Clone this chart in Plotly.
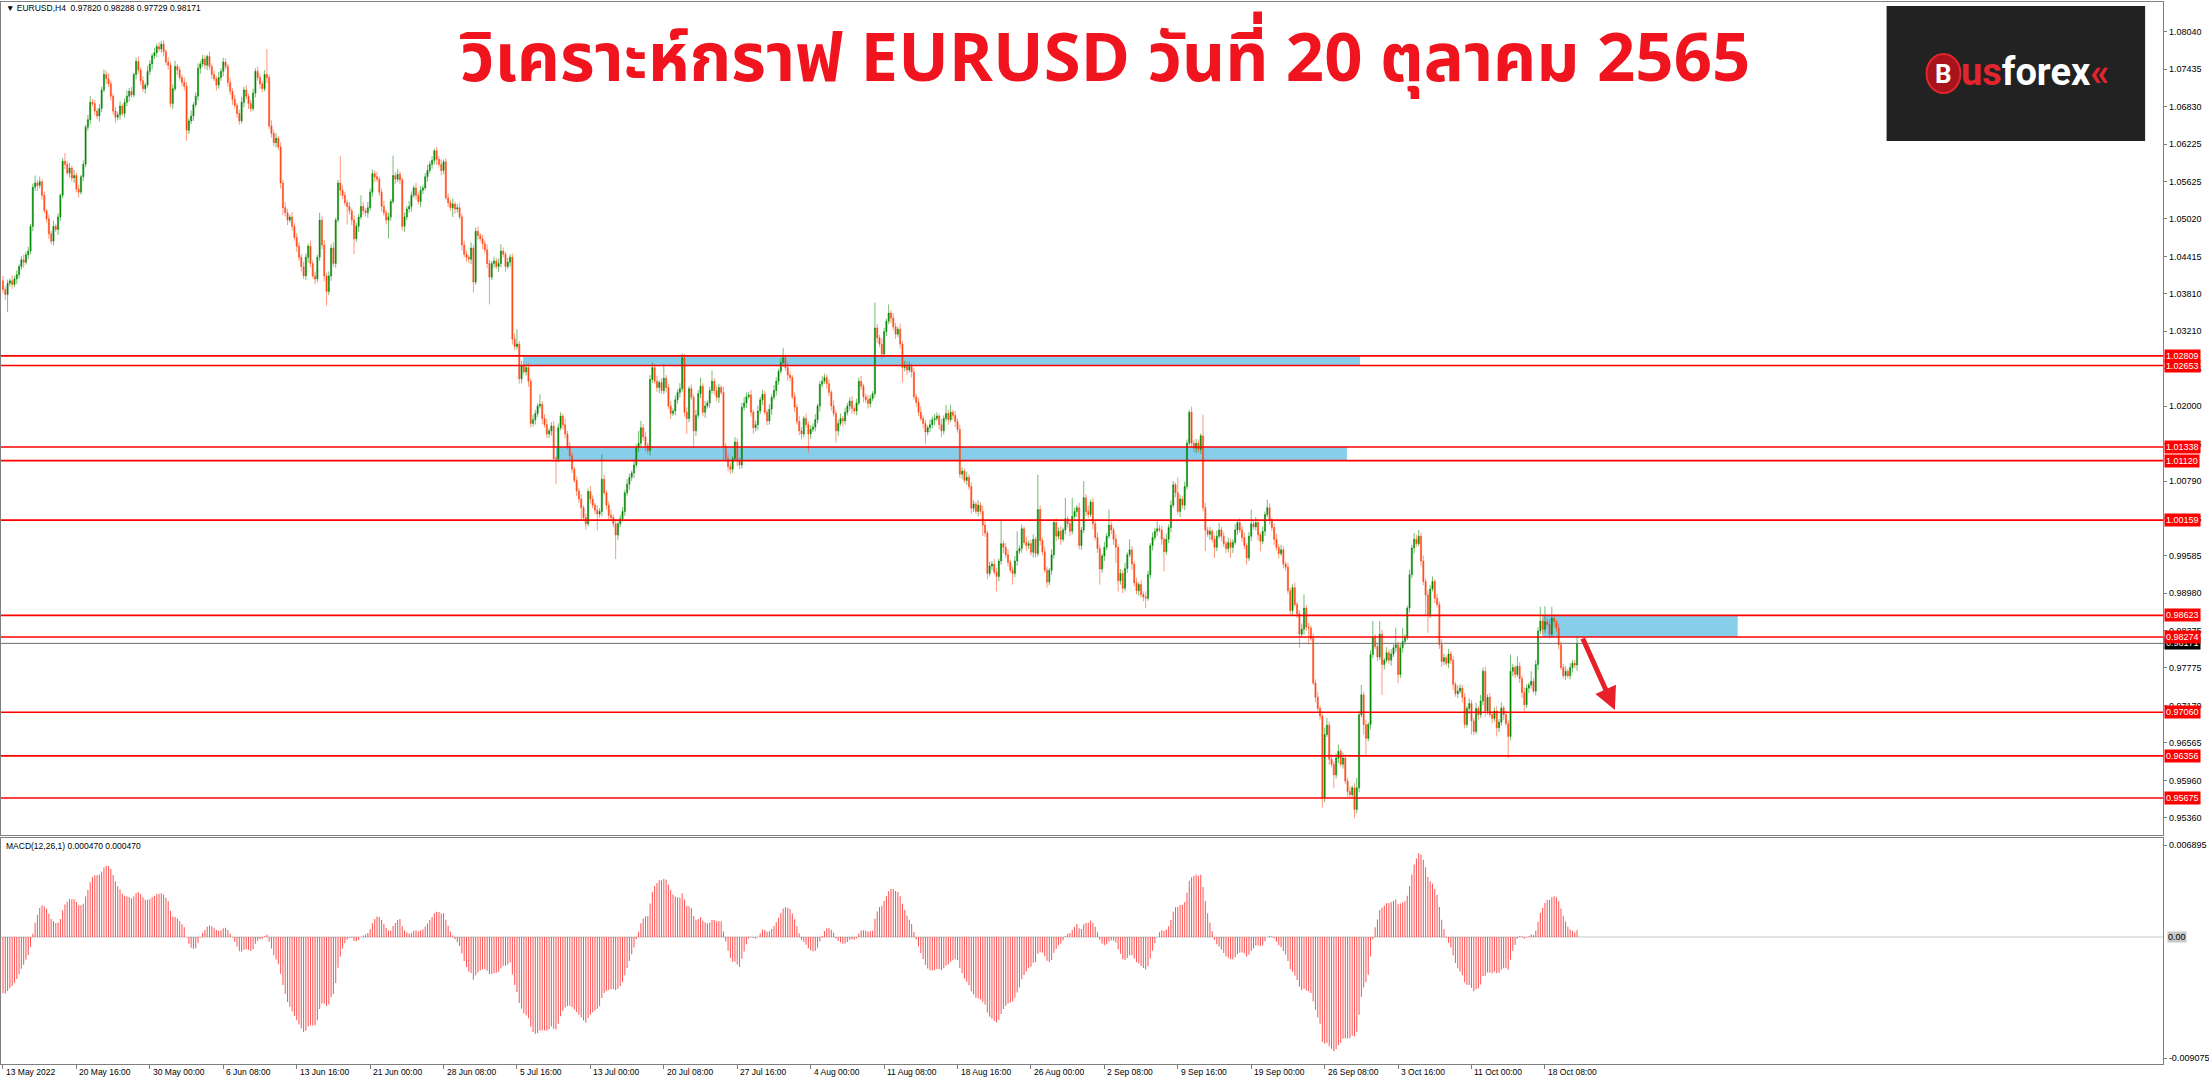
import plotly.graph_objects as go

# ---------------- chart data (prices in pips, 1 pip = 0.0001) ----------------
HEADER = "▼ EURUSD,H4  0.97820 0.98288 0.97729 0.98171"
TITLE = "วิเคราะห์กราฟ EURUSD วันที่ 20 ตุลาคม 2565"
MACD_HEADER = "MACD(12,26,1) 0.000470 0.000470"

OPEN_FIRST = 10402
CLOSE = [
    10388, 10380, 10398, 10402, 10396, 10405, 10412, 10425, 10436, 10432,
    10444, 10450, 10490, 10553, 10560, 10556, 10562, 10540, 10515, 10502,
    10478, 10466, 10490, 10485, 10505, 10540, 10595, 10590, 10576, 10584,
    10568, 10572, 10550, 10545, 10570, 10590, 10650, 10662, 10690, 10688,
    10676, 10668, 10680, 10710, 10735, 10728, 10720, 10700, 10676, 10666,
    10670, 10684, 10672, 10690, 10700, 10708, 10702, 10735, 10756, 10742,
    10725, 10712, 10718, 10740, 10752, 10765, 10770, 10780, 10776, 10784,
    10772, 10755, 10750, 10688, 10712, 10748, 10742, 10730, 10722, 10716,
    10645, 10660, 10668, 10686, 10700, 10745, 10752, 10760, 10750, 10764,
    10748, 10735, 10728, 10718, 10730, 10740, 10755, 10748, 10722, 10708,
    10695, 10685, 10672, 10660, 10690, 10710, 10700, 10688, 10680, 10705,
    10740, 10730, 10720, 10712, 10735, 10730, 10652, 10640, 10625, 10632,
    10618, 10560, 10520, 10512, 10500, 10505, 10490, 10472, 10458, 10440,
    10425, 10410, 10440, 10458, 10430, 10410, 10405, 10440, 10500, 10460,
    10410, 10385, 10410, 10455, 10430, 10500, 10560, 10548, 10540, 10528,
    10522, 10515, 10500, 10470, 10490, 10505, 10522, 10515, 10512, 10520,
    10545, 10575, 10570, 10566, 10545, 10522, 10512, 10500, 10505, 10530,
    10572, 10566, 10574, 10565, 10490, 10505, 10518, 10522, 10540, 10552,
    10540, 10530, 10548, 10552, 10570, 10580, 10590, 10596, 10612, 10598,
    10590, 10580, 10594, 10536, 10528, 10520, 10526, 10518, 10520, 10505,
    10460, 10445, 10440, 10437, 10455, 10400, 10482, 10475, 10470, 10462,
    10452, 10430, 10408, 10430, 10434, 10425, 10430, 10450, 10445, 10425,
    10432, 10440, 10308, 10296, 10300, 10244, 10265, 10255, 10262, 10240,
    10172, 10178, 10188, 10200, 10203, 10180, 10170, 10155, 10160, 10168,
    10115, 10115, 10165, 10184, 10170, 10155, 10135, 10120, 10098, 10080,
    10063, 10050, 10036, 10020, 10010, 10062, 10050, 10040, 10032, 10026,
    10030, 10082, 10060, 10040, 10024, 10020, 10010, 9992, 10010, 10018,
    10030, 10060, 10074, 10085, 10092, 10105, 10133, 10140, 10165, 10150,
    10136, 10128, 10243, 10262, 10240, 10230, 10238, 10225, 10245, 10230,
    10200, 10188, 10192, 10210, 10222, 10228, 10278, 10190, 10180, 10228,
    10214, 10160, 10185, 10220, 10232, 10190, 10200, 10205, 10225, 10240,
    10225, 10214, 10230, 10222, 10135, 10115, 10102, 10098, 10115, 10142,
    10112, 10105, 10198, 10205, 10215, 10218, 10190, 10165, 10170, 10192,
    10210, 10219, 10190, 10176, 10195, 10214, 10225, 10240, 10256, 10270,
    10278, 10262, 10250, 10246, 10215, 10198, 10175, 10160, 10155, 10180,
    10170, 10155, 10162, 10166, 10178, 10200, 10235, 10240, 10246, 10236,
    10222, 10200, 10188, 10160, 10172, 10180, 10176, 10190, 10200, 10208,
    10196, 10192, 10205, 10240, 10232, 10215, 10210, 10204, 10212, 10220,
    10326, 10310, 10300, 10284, 10320, 10337, 10350, 10342, 10328, 10316,
    10324, 10300, 10262, 10266, 10258, 10264, 10255, 10215, 10206, 10190,
    10180, 10172, 10158, 10165, 10170, 10178, 10180, 10184, 10170, 10160,
    10180, 10188, 10178, 10190, 10185, 10175, 10162, 10090, 10095, 10080,
    10085, 10070, 10035, 10042, 10030, 10040, 10030, 10008, 9995, 9930,
    9942, 9945, 9932, 9925, 9950, 9978, 9972, 9960, 9948, 9935,
    9930, 9950, 9966, 9970, 10002, 9980, 9975, 9978, 9964, 9985,
    9962, 10033, 9983, 9965, 9935, 9916, 9935, 9960, 10012, 9990,
    9998, 9985, 10000, 10018, 10010, 9998, 10022, 10030, 10036, 9975,
    10000, 10052, 10030, 10025, 10045, 10010, 9988, 9970, 9937, 9958,
    9972, 9990, 10008, 10000, 9985, 9972, 9918, 9930, 9906, 9938,
    9960, 9968, 9945, 9915, 9902, 9912, 9896, 9892, 9890, 9928,
    9975, 9988, 9998, 10002, 10000, 9985, 9965, 9985, 10004, 10040,
    10073, 10060, 10030, 10050, 10040, 10070, 10140, 10190, 10140, 10132,
    10140, 10130, 10152, 10036, 10000, 9993, 9998, 9985, 9972, 9990,
    10000, 9990, 9978, 9970, 9980, 9972, 9980, 10000, 10012, 10000,
    9988, 9975, 9955, 9990, 10010, 10005, 10012, 9992, 9982, 9998,
    10025, 10036, 10016, 10004, 9985, 9972, 9962, 9968, 9945, 9940,
    9902, 9870, 9907, 9880, 9865, 9832, 9840, 9874, 9843, 9842,
    9825, 9753, 9730, 9712, 9700, 9568, 9670, 9685, 9630, 9622,
    9605, 9632, 9643, 9622, 9632, 9595, 9578, 9573, 9584, 9549,
    9584, 9702, 9734, 9686, 9664, 9686, 9799, 9826, 9812, 9795,
    9832, 9783, 9790, 9802, 9790, 9800, 9810, 9815, 9767, 9810,
    9820, 9826, 9874, 9928, 9971, 9985, 9978, 9990, 9950, 9917,
    9895, 9864, 9905, 9917, 9890, 9880, 9815, 9788, 9794, 9785,
    9800, 9790, 9751, 9736, 9740, 9745, 9730, 9686, 9712, 9720,
    9692, 9675, 9712, 9702, 9724, 9772, 9708, 9730, 9702, 9696,
    9708, 9681, 9690, 9713, 9702, 9688, 9667, 9772, 9778, 9767,
    9780, 9760, 9738, 9718, 9745, 9750, 9756, 9740, 9783, 9837,
    9853, 9840, 9852, 9848, 9832, 9858, 9852, 9842, 9815, 9778,
    9765, 9772, 9765, 9778, 9785, 9782, 9817,
]
UPPER_WICK = [
    8, 5, 6, 4, 9, 5, 7, 4, 6, 8,
    5, 7, 4, 6, 12, 5, 8, 4, 6, 3,
    7, 5, 9, 4, 6, 3, 5, 13, 6, 8,
    4, 9, 5, 7, 3, 6, 4, 8, 10, 5,
    6, 4, 7, 5, 8, 6, 9, 5, 4, 7,
    5, 8, 4, 6, 9, 5, 7, 3, 6, 8,
    5, 7, 4, 9, 6, 4, 8, 5, 7, 5,
    6, 4, 8, 5, 7, 9, 4, 6, 5, 8,
    7, 5, 9, 4, 6, 8, 5, 7, 6, 3,
    8, 5, 6, 4, 9, 5, 7, 6, 4, 8,
    5, 7, 4, 6, 9, 5, 8, 4, 6, 7,
    5, 8, 6, 4, 7, 41, 5, 9, 6, 8,
    4, 7, 5, 9, 6, 4, 8, 5, 7, 6,
    5, 8, 6, 4, 9, 5, 7, 4, 12, 6,
    8, 5, 7, 6, 9, 4, 5, 43, 8, 6,
    5, 7, 4, 8, 6, 5, 18, 7, 4, 9,
    6, 7, 5, 8, 4, 6, 9, 5, 7, 4,
    32, 6, 8, 5, 4, 7, 5, 9, 6, 4,
    8, 5, 7, 4, 6, 9, 5, 7, 3, 6,
    5, 8, 4, 6, 7, 5, 9, 4, 6, 8,
    5, 7, 6, 4, 9, 5, 6, 8, 4, 7,
    5, 9, 6, 4, 7, 5, 8, 11, 6, 4,
    7, 5, 6, 9, 24, 5, 8, 4, 6, 7,
    5, 8, 6, 4, 16, 5, 7, 9, 4, 6,
    8, 5, 7, 6, 4, 9, 5, 7, 6, 4,
    6, 5, 8, 4, 7, 5, 9, 6, 4, 8,
    5, 40, 7, 4, 6, 9, 5, 8, 4, 6,
    7, 5, 8, 6, 4, 9, 5, 20, 11, 6,
    8, 5, 7, 8, 6, 9, 4, 7, 23, 5,
    6, 8, 4, 7, 5, 9, 7, 6, 8, 4,
    7, 5, 9, 6, 14, 5, 8, 4, 6, 17,
    5, 8, 6, 4, 9, 5, 7, 6, 4, 8,
    6, 5, 7, 9, 7, 5, 8, 4, 6, 9,
    5, 7, 6, 4, 8, 5, 9, 6, 4, 7,
    16, 5, 8, 6, 4, 7, 5, 9, 6, 4,
    8, 5, 7, 6, 9, 4, 5, 8, 6, 5,
    7, 4, 9, 5, 6, 8, 4, 7, 5, 6,
    8, 5, 7, 6, 9, 4, 5, 8, 6, 4,
    41, 7, 5, 9, 6, 4, 14, 5, 8, 6,
    4, 9, 5, 7, 6, 8, 4, 6, 5, 7,
    9, 5, 6, 4, 8, 5, 7, 6, 4, 9,
    5, 14, 6, 12, 4, 7, 5, 8, 6, 4,
    9, 5, 7, 6, 4, 8, 5, 9, 6, 4,
    7, 5, 8, 6, 4, 39, 5, 7, 9, 4,
    6, 8, 32, 5, 7, 4, 9, 5, 6, 8,
    4, 56, 7, 5, 8, 6, 4, 9, 5, 7,
    6, 8, 4, 34, 5, 7, 30, 6, 4, 8,
    5, 27, 6, 9, 4, 7, 5, 8, 6, 4,
    9, 5, 25, 6, 4, 8, 5, 7, 6, 9,
    4, 17, 6, 5, 8, 4, 7, 5, 9, 6,
    4, 8, 5, 12, 6, 7, 4, 9, 5, 8,
    6, 4, 25, 7, 5, 8, 6, 4, 9, 5,
    7, 6, 4, 34, 8, 5, 7, 4, 6, 9,
    12, 5, 7, 4, 8, 6, 5, 9, 4, 7,
    6, 8, 4, 7, 23, 5, 9, 6, 4, 8,
    5, 13, 7, 4, 6, 9, 5, 8, 6, 4,
    7, 5, 5, 8, 4, 6, 9, 22, 5, 7,
    4, 8, 6, 9, 5, 4, 11, 12, 6, 8,
    5, 7, 11, 4, 9, 6, 5, 8, 4, 7,
    16, 6, 16, 5, 8, 4, 7, 27, 6, 5,
    21, 7, 4, 9, 5, 8, 6, 27, 5, 7,
    22, 6, 4, 8, 5, 10, 7, 10, 6, 9,
    5, 8, 6, 8, 4, 7, 5, 9, 6, 4,
    8, 5, 7, 4, 9, 6, 5, 7, 4, 8,
    6, 5, 9, 4, 10, 6, 8, 5, 7, 4,
    6, 8, 5, 9, 4, 7, 5, 27, 6, 4,
    16, 7, 5, 8, 6, 4, 16, 5, 7, 6,
    23, 6, 25, 5, 8, 18, 6, 4, 7, 5,
    6, 8, 4, 7, 5, 6, 12,
]
LOWER_WICK = [
    6, 9, 28, 5, 7, 4, 8, 6, 5, 9,
    4, 7, 5, 8, 6, 9, 5, 7, 4, 6,
    8, 5, 7, 4, 9, 6, 5, 8, 4, 7,
    6, 8, 5, 9, 4, 7, 5, 6, 8, 4,
    7, 5, 9, 6, 4, 8, 5, 7, 6, 9,
    5, 8, 4, 7, 6, 9, 5, 4, 8, 6,
    7, 5, 8, 4, 6, 9, 5, 7, 4, 6,
    8, 5, 7, 6, 9, 4, 8, 5, 6, 7,
    17, 6, 5, 8, 4, 7, 9, 5, 6, 8,
    5, 7, 4, 9, 6, 5, 8, 4, 7, 6,
    9, 5, 7, 6, 4, 8, 5, 9, 6, 4,
    7, 5, 8, 6, 4, 9, 5, 7, 6, 8,
    5, 9, 12, 6, 8, 4, 7, 5, 9, 6,
    8, 5, 7, 9, 6, 4, 8, 5, 6, 7,
    9, 23, 6, 8, 5, 7, 4, 9, 6, 5,
    29, 6, 8, 25, 5, 9, 4, 7, 6, 8,
    5, 7, 9, 4, 6, 8, 5, 7, 30, 6,
    4, 8, 5, 7, 7, 9, 5, 6, 8, 4,
    7, 5, 9, 6, 4, 8, 5, 7, 6, 9,
    5, 8, 6, 4, 7, 5, 15, 8, 6, 4,
    9, 5, 7, 6, 8, 17, 4, 7, 5, 9,
    6, 8, 44, 5, 7, 4, 9, 6, 5, 8,
    4, 7, 9, 6, 5, 8, 7, 4, 6, 9,
    7, 5, 8, 6, 4, 9, 5, 7, 6, 8,
    5, 41, 6, 4, 8, 7, 5, 9, 6, 4,
    8, 6, 21, 5, 9, 4, 7, 5, 6, 27,
    6, 8, 4, 7, 9, 5, 6, 39, 8, 5,
    4, 7, 5, 9, 6, 8, 4, 7, 5, 6,
    9, 5, 8, 6, 4, 7, 9, 5, 6, 8,
    5, 9, 4, 7, 6, 8, 5, 7, 25, 6,
    4, 27, 8, 5, 7, 6, 9, 4, 8, 5,
    7, 6, 9, 4, 23, 5, 8, 8, 6, 4,
    9, 7, 6, 5, 8, 4, 7, 10, 6, 9,
    5, 8, 4, 7, 6, 9, 5, 8, 6, 4,
    7, 5, 9, 6, 4, 8, 5, 7, 9, 6,
    5, 30, 8, 4, 7, 6, 9, 5, 4, 8,
    6, 7, 5, 19, 8, 4, 9, 6, 5, 7,
    8, 5, 7, 4, 6, 9, 5, 8, 6, 4,
    6, 8, 5, 8, 4, 7, 5, 9, 6, 8,
    5, 7, 24, 6, 8, 4, 9, 5, 7, 6,
    4, 8, 20, 5, 7, 6, 9, 4, 8, 10,
    6, 5, 8, 4, 7, 9, 5, 6, 8, 4,
    7, 5, 9, 6, 4, 8, 5, 18, 6, 9,
    5, 7, 4, 24, 8, 6, 9, 5, 7, 4,
    18, 6, 8, 5, 7, 4, 9, 6, 5, 8,
    7, 5, 8, 6, 4, 9, 5, 7, 6, 8,
    5, 9, 4, 7, 6, 8, 5, 4, 9, 6,
    7, 5, 8, 6, 4, 9, 5, 7, 25, 6,
    8, 5, 4, 7, 9, 25, 17, 6, 8, 5,
    7, 4, 9, 6, 6, 8, 5, 7, 16, 4,
    6, 8, 5, 7, 4, 9, 32, 5, 6, 8,
    4, 7, 5, 9, 6, 8, 5, 4, 7, 6,
    8, 5, 7, 6, 34, 4, 9, 5, 17, 6,
    4, 8, 5, 7, 6, 17, 9, 4, 8, 5,
    7, 6, 11, 5, 8, 4, 6, 9, 16, 5,
    8, 4, 7, 6, 9, 5, 8, 4, 7, 6,
    5, 6, 8, 4, 7, 22, 5, 9, 6, 27,
    4, 3, 8, 5, 6, 16, 7, 4, 9, 5,
    21, 6, 8, 4, 7, 5, 9, 6, 4, 14,
    6, 7, 4, 16, 29, 5, 8, 6, 4, 7,
    5, 49, 8, 4, 6, 9, 5, 7, 14, 6,
    8, 5, 4, 7, 6, 9, 5, 4, 8, 6,
    32, 30, 6, 4, 8, 5, 7, 9, 6, 4,
    8, 6, 9, 5, 7, 4, 8, 6, 5, 9,
    22, 6, 4, 8, 5, 7, 9, 6, 4, 8,
    5, 14, 7, 6, 9, 4, 35, 5, 8, 6,
    4, 7, 9, 10, 5, 8, 6, 4, 7, 9,
    5, 8, 6, 4, 7, 5, 9, 6, 8, 4,
    5, 7, 4, 6, 8, 5, 9,
]
PIP = 0.0001

# MACD(12,26,1): EMA state carried in from the bars before the visible window
EMA_FAST_START = 1.0428
EMA_SLOW_START = 1.0470
MACD_FAST, MACD_SLOW = 12, 26

# horizontal levels drawn on the chart
LEVELS = [1.02809, 1.02653, 1.01338, 1.01120, 1.00159, 0.98623, 0.98274, 0.97060, 0.96356, 0.95675]
LAST_PRICE = 0.98171
# zones: (first bar, last bar, low price, high price)
ZONES = [
    (226.6, 591.4, 1.02653, 1.02809),
    (241.0, 585.7, 1.01120, 1.01338),
    (670.9, 756.0, 0.98274, 0.98623),
]
ARROW_FROM = (688.2, 0.98274)
ARROW_TO = (702.5, 0.97096)

PRICE_TICKS = [1.08040, 1.07435, 1.06830, 1.06225, 1.05625, 1.05020, 1.04415, 1.03810, 1.03210,
               1.02605, 1.02000, 1.01395, 1.00790, 1.00185, 0.99585, 0.98980, 0.98375, 0.97775,
               0.97170, 0.96565, 0.95960, 0.95360]
MACD_TICKS = [0.006895, -0.009075]
DATE_LABELS = ["13 May 2022", "20 May 16:00", "30 May 00:00", "6 Jun 08:00", "13 Jun 16:00",
               "21 Jun 00:00", "28 Jun 08:00", "5 Jul 16:00", "13 Jul 00:00", "20 Jul 08:00",
               "27 Jul 16:00", "4 Aug 00:00", "11 Aug 08:00", "18 Aug 16:00", "26 Aug 00:00",
               "2 Sep 08:00", "9 Sep 16:00", "19 Sep 00:00", "26 Sep 08:00", "3 Oct 16:00",
               "11 Oct 00:00", "18 Oct 08:00"]
BARS_PER_LABEL = 32

# ---------------- derived series ----------------
n = len(CLOSE)
bars = list(range(n))
opens_p = [OPEN_FIRST] + CLOSE[:-1]
o = [v * PIP for v in opens_p]
c = [v * PIP for v in CLOSE]
h = [(max(a, b) + u) * PIP for a, b, u in zip(opens_p, CLOSE, UPPER_WICK)]
l = [(min(a, b) - d) * PIP for a, b, d in zip(opens_p, CLOSE, LOWER_WICK)]

af, as_ = 2.0 / (MACD_FAST + 1), 2.0 / (MACD_SLOW + 1)
ef, es = EMA_FAST_START, EMA_SLOW_START
macd = []
for v in c:
    ef += af * (v - ef)
    es += as_ * (v - es)
    macd.append(ef - es)

# ---------------- layout geometry (pixels) ----------------
W, H = 2209, 1080
PX_L, PX_R = 1, 2167
MAIN_TOP, MAIN_BOT = 2, 835
MACD_TOP, MACD_BOT = 838, 1064
X_RANGE = [-0.87, 941.4]
PRICE_RANGE = [0.95079, 1.08519]
MACD_RANGE = [-0.00952, 0.007421]
AXIS = "#7f7f7f"
FONT = "Liberation Sans, DejaVu Sans, sans-serif"
RED = "#ff0000"


def fx(p):
    return p / W


def fy(p):
    return 1 - p / H


fig = go.Figure()
fig.add_trace(go.Candlestick(
    x=bars, open=o, high=h, low=l, close=c,
    increasing=dict(line=dict(color="rgba(0,135,0,0.55)", width=1), fillcolor="#008a00"),
    decreasing=dict(line=dict(color="rgba(255,70,20,0.55)", width=1), fillcolor="#ff4a14"),
    whiskerwidth=0, showlegend=False, hoverinfo="skip", xaxis="x", yaxis="y",
))
fig.add_trace(go.Bar(
    x=bars, y=macd, xaxis="x2", yaxis="y2", width=0.45,
    marker=dict(color="rgba(255,30,30,0.75)", line=dict(width=0)),
    showlegend=False, hoverinfo="skip",
))

shapes = []
for x0, x1, y0, y1 in ZONES:
    shapes.append(dict(type="rect", xref="x", yref="y", x0=x0, x1=x1, y0=y0, y1=y1,
                       fillcolor="#87CEEB", line=dict(width=0), layer="below"))
shapes.append(dict(type="line", xref="paper", yref="y", x0=fx(PX_L), x1=fx(PX_R),
                   y0=LAST_PRICE, y1=LAST_PRICE, line=dict(color="#6e6e6e", width=1)))
for lv in LEVELS:
    shapes.append(dict(type="line", xref="paper", yref="y", x0=fx(PX_L), x1=fx(PX_R),
                       y0=lv, y1=lv, line=dict(color=RED, width=1.6)))
shapes.append(dict(type="line", xref="x2", yref="y2", x0=X_RANGE[0], x1=X_RANGE[1], y0=0, y1=0,
                   line=dict(color="#c8c8c8", width=1), layer="below"))
# logo block
shapes.append(dict(type="rect", xref="paper", yref="paper", x0=fx(1890), x1=fx(2149),
                   y0=fy(141), y1=fy(6), fillcolor="#222222", line=dict(width=0)))
shapes.append(dict(type="circle", xref="paper", yref="paper", x0=fx(1930), x1=fx(1964),
                   y0=fy(93), y1=fy(54), fillcolor="#a8141b", line=dict(color="#e3262e", width=2)))

ann = []
ann.append(dict(text=TITLE, x=fx(1107), y=fy(60), xref="paper", yref="paper",
                xanchor="center", yanchor="middle", showarrow=False,
                font=dict(size=67, color="#f0141e", family="Noto Sans Thai, Noto Sans, sans-serif", weight="bold")))
ann.append(dict(text=HEADER, x=fx(4), y=fy(8), xref="paper", yref="paper", xanchor="left",
                yanchor="middle", showarrow=False, font=dict(size=8.5, color="black", family=FONT)))
ann.append(dict(text=MACD_HEADER, x=fx(4), y=fy(846), xref="paper", yref="paper", xanchor="left",
                yanchor="middle", showarrow=False, font=dict(size=8.5, color="black", family=FONT)))
ann.append(dict(text="<b>B</b>", x=fx(1947), y=fy(74), xref="paper", yref="paper",
                xanchor="center", yanchor="middle", showarrow=False,
                font=dict(size=26, color="white", family="Roboto, sans-serif")))
ann.append(dict(text="<b><span style='color:#e3262e'>us</span>forex<span style='color:#e3262e'>«</span></b>",
                x=fx(1963), y=fy(72), xref="paper", yref="paper", xanchor="left", yanchor="middle",
                showarrow=False, font=dict(size=38, color="white", family="Roboto, sans-serif")))
# arrow
ann.append(dict(x=ARROW_TO[0], y=ARROW_TO[1], ax=ARROW_FROM[0], ay=ARROW_FROM[1],
                xref="x", yref="y", axref="x", ayref="y", showarrow=True, text="",
                arrowhead=2, arrowsize=0.9, arrowwidth=5, arrowcolor="#e8202a"))
# price labels on the right axis
ann.append(dict(text=f"{LAST_PRICE:.5f}", x=fx(2168), y=LAST_PRICE, xref="paper", yref="y",
                xanchor="left", yanchor="middle", showarrow=False, bgcolor="#000000", borderpad=1,
                font=dict(size=9, color="white", family=FONT)))
for lv in LEVELS:
    ann.append(dict(text=f"{lv:.5f}", x=fx(2168), y=lv, xref="paper", yref="y",
                    xanchor="left", yanchor="middle", showarrow=False, bgcolor=RED, borderpad=1,
                    font=dict(size=9, color="white", family=FONT)))
ann.append(dict(text="0.00", x=fx(2171), y=0, xref="paper", yref="y2", xanchor="left",
                yanchor="middle", showarrow=False, bgcolor="#c8c8c8", borderpad=0,
                font=dict(size=9, color="black", family=FONT)))
# date labels, left-aligned at their tick
tick_bars = [k * BARS_PER_LABEL for k in range(len(DATE_LABELS))]
for b, t in zip(tick_bars, DATE_LABELS):
    ann.append(dict(text=t, x=b, y=fy(1072), xref="x2", yref="paper", xanchor="left",
                    yanchor="middle", xshift=1, showarrow=False,
                    font=dict(size=8.5, color="black", family=FONT)))

common_axis = dict(showgrid=False, zeroline=False, showline=True, linecolor=AXIS, linewidth=1, mirror=True)
fig.update_layout(
    width=W, height=H, margin=dict(l=0, r=0, t=0, b=0),
    paper_bgcolor="white", plot_bgcolor="white", showlegend=False, hovermode=False, boxgap=0.3,
    xaxis=dict(domain=[fx(PX_L), fx(PX_R)], range=X_RANGE, anchor="y", showticklabels=False,
               ticks="", rangeslider=dict(visible=False), **common_axis),
    yaxis=dict(domain=[fy(MAIN_BOT), fy(MAIN_TOP)], range=PRICE_RANGE, side="right", anchor="x",
               tickvals=PRICE_TICKS, tickformat=".5f", ticks="outside", ticklen=3, tickcolor=AXIS,
               tickfont=dict(size=9, color="black", family=FONT), **common_axis),
    xaxis2=dict(domain=[fx(PX_L), fx(PX_R)], range=X_RANGE, anchor="y2", showticklabels=False,
                ticks="outside", ticklen=4, tickcolor=AXIS, tickvals=tick_bars, **common_axis),
    yaxis2=dict(domain=[fy(MACD_BOT), fy(MACD_TOP)], range=MACD_RANGE, side="right", anchor="x2",
                tickvals=MACD_TICKS, ticktext=[f"{v:.6f}" for v in MACD_TICKS], ticks="outside",
                ticklen=3, tickcolor=AXIS, tickfont=dict(size=9, color="black", family=FONT),
                **common_axis),
    shapes=shapes, annotations=ann,
)

fig.write_html(
    "out.html",
    config={"displayModeBar": False},
    post_script="document.body.style.margin='0';document.body.style.overflow='hidden';",
)
